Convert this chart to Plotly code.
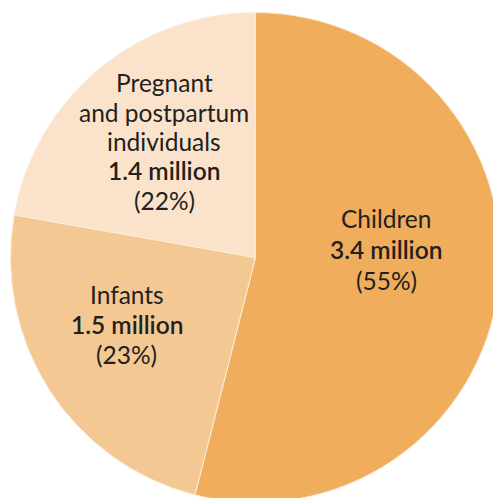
import plotly.graph_objects as go

categories = ["Children", "Infants", "Pregnant and postpartum individuals"]
values_million = [3.4, 1.5, 1.4]
percent_labels = ["55%", "23%", "22%"]
label_lines = [["Children"], ["Infants"], ["Pregnant", "and postpartum", "individuals"]]
colors = ["#F0AD5C", "#F4C892", "#FAE3CA"]

W, H = 501, 498
OFF = 8  # page body margin

fig = go.Figure(go.Pie(
    labels=categories,
    values=values_million,
    sort=False,
    direction="clockwise",
    rotation=0,
    marker=dict(colors=colors, line=dict(color="#FCEBD8", width=1)),
    textinfo="none",
    hoverinfo="label+value",
    domain=dict(x=[2.5 / W, 492.5 / W], y=[3.5 / H, 493.5 / H]),
    showlegend=False,
))

# label block placement in reference pixels: (center x, first line y, line step)
label_px = [(386, 219, 30.5), (126.5, 294.5, 30), (164, 82.8, 29.3)]
FONT = "Lato, Open Sans, sans-serif"
for lines, v, p, (px, py0, step) in zip(label_lines, values_million, percent_labels, label_px):
    rows = [(t, 400) for t in lines] + [(f"{v} million", 600), (f"({p})", 400)]
    for i, (t, wgt) in enumerate(rows):
        py = py0 + i * step
        fig.add_annotation(
            x=(px - OFF) / W, y=1 - (py - OFF) / H, xref="paper", yref="paper",
            text=t, showarrow=False,
            font=dict(family=FONT, size=24.5, color="#231F20", weight=wgt),
            align="center", xanchor="center", yanchor="middle",
        )

fig.update_layout(
    width=W, height=H,
    margin=dict(l=0, r=0, t=0, b=0),
    paper_bgcolor="white", plot_bgcolor="white",
)
fig.write_html("out.html")
